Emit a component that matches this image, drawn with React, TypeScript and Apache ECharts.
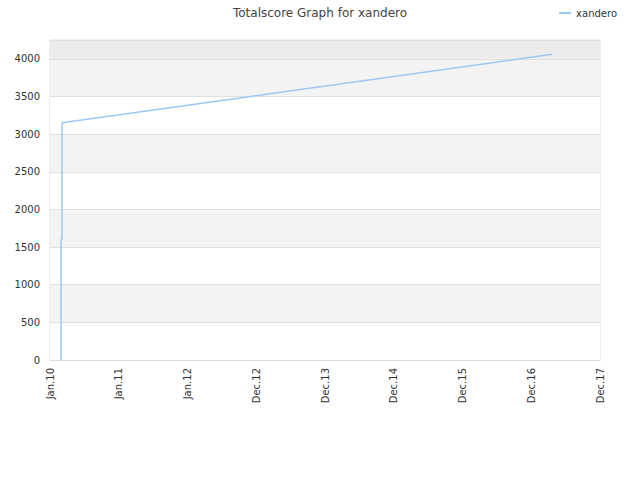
import React, { useEffect, useRef } from "react";
import * as echarts from "echarts";

const tickLabels = ["Jan.10", "Jan.11", "Jan.12", "Dec.12", "Dec.13", "Dec.14", "Dec.15", "Dec.16", "Dec.17"];
const seriesName = "xandero";
const xPositions = [0.16, 0.16, 0.175, 0.175, 7.3];
const scores = [0, 1600, 1600, 3150, 4060];

export default function App() {
  const ref = useRef<HTMLDivElement>(null);
  useEffect(() => {
    if (!ref.current) return;
    const chart = echarts.init(ref.current, null, { renderer: "svg" });
    chart.setOption({
      animation: false,
      title: {
        text: "Totalscore Graph for xandero",
        left: "center",
        top: 2,
        textStyle: { fontFamily: "DejaVu Sans", fontSize: 12, fontWeight: "normal", color: "#444" },
      },
      legend: {
        right: 18,
        top: 3,
        itemWidth: 12,
        itemHeight: 2,
        icon: "rect",
        textStyle: { fontFamily: "DejaVu Sans", fontSize: 10, color: "#333" },
        data: [seriesName],
      },
      grid: {
        left: 50,
        right: 40,
        top: 40,
        bottom: 120,
        show: true,
        borderColor: "#dddddd",
        borderWidth: 1,
        backgroundColor: "transparent",
      },
      xAxis: {
        type: "value",
        min: 0,
        max: 8,
        interval: 1,
        axisLine: { show: true, lineStyle: { color: "#dddddd" } },
        axisTick: { show: false },
        splitLine: { show: false },
        axisLabel: {
          rotate: 90,
          fontFamily: "DejaVu Sans",
          fontSize: 10,
          color: "#333",
          margin: 8,
          formatter: (v: number) => tickLabels[Math.round(v)] ?? "",
        },
      },
      yAxis: {
        type: "value",
        min: 0,
        max: 4250,
        interval: 500,
        axisLine: { show: false },
        axisTick: { show: false },
        axisLabel: {
          fontFamily: "DejaVu Sans",
          fontSize: 10,
          color: "#333",
          margin: 10,
          showMaxLabel: false,
          formatter: (v: number) => String(v),
        },
        splitLine: { show: true, lineStyle: { color: "#e0e0e0" } },
        splitArea: {
          show: true,
          areaStyle: {
            color: ["#ffffff", "#f3f3f3", "#ffffff", "#f3f3f3", "#ffffff", "#f3f3f3", "#ffffff", "#f3f3f3", "#ececec"],
          },
        },
      },
      series: [
        {
          name: seriesName,
          type: "line",
          data: xPositions.map((x, i) => [x, scores[i]]),
          showSymbol: false,
          symbol: "none",
          lineStyle: { color: "#99c8f5", width: 1.5 },
          itemStyle: { color: "#99c8f5" },
        },
      ],
    });
    return () => chart.dispose();
  }, []);
  return <div ref={ref} style={{ width: 640, height: 480, position: "absolute", left: 0, top: 0 }} />;
}
